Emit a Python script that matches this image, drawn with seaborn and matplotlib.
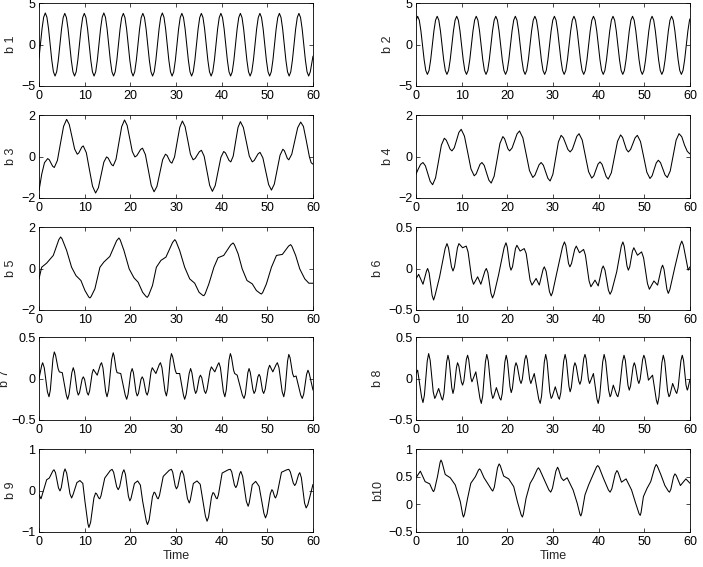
import numpy as np
import matplotlib
matplotlib.use("Agg")
import matplotlib.pyplot as plt
import seaborn as sns

sns.set_style("ticks")
plt.rcParams['font.family'] = ['Liberation Sans', 'DejaVu Sans']

# ---------------- data ----------------
x_ticks = [0, 10, 20, 30, 40, 50, 60]
x_label = "Time"

# b1: regular oscillation, sampled every 0.356 s from t = 0.31 s
b1_start, b1_step = 0.31, 0.356
b1_v = [0, 1.9, 3.29, 3.8, 3.29, 1.9, 0, -1.9, -3.29, -3.8, -3.29, -1.9,
        0, 1.88, 3.25, 3.75, 3.25, 1.88, 0, -1.9, -3.29, -3.8, -3.29, -1.9,
        0, 1.88, 3.25, 3.75, 3.25, 1.88, 0, -1.9, -3.29, -3.8, -3.29, -1.9,
        0, 1.9, 3.29, 3.8, 3.29, 1.9, 0, -1.9, -3.29, -3.8, -3.29, -1.9,
        0, 1.88, 3.25, 3.75, 3.25, 1.88, 0, -1.9, -3.29, -3.8, -3.29, -1.9,
        0, 1.88, 3.25, 3.75, 3.25, 1.88, 0, -1.9, -3.29, -3.8, -3.29, -1.9,
        0, 1.9, 3.29, 3.8, 3.29, 1.9, 0, -1.9, -3.29, -3.8, -3.29, -1.9,
        0, 1.88, 3.25, 3.75, 3.25, 1.88, 0, -1.9, -3.29, -3.8, -3.29, -1.9,
        0, 1.88, 3.25, 3.75, 3.25, 1.88, 0, -1.9, -3.29, -3.8, -3.29, -1.9,
        0, 1.88, 3.25, 3.75, 3.25, 1.88, 0, -1.9, -3.29, -3.8, -3.29, -1.9,
        0, 1.88, 3.25, 3.75, 3.25, 1.88, 0, -1.9, -3.29, -3.8, -3.29, -1.9,
        0, 1.88, 3.25, 3.75, 3.25, 1.88, 0, -1.9, -3.29, -3.8, -3.29, -1.9,
        0, 1.88, 3.25, 3.75, 3.25, 1.88, 0, -1.9, -3.29, -3.8, -3.29, -1.9,
        0, 1.88, 3.25, 3.75, 3.25, 1.88, 0, -1.9, -3.29, -3.8, -3.29]
b1_first, b1_last = -1.65, -1.4

# b2: regular oscillation, sampled every 0.3565 s from t = 0.36 s
b2_start, b2_step = 0.36, 0.3565
b2_v = [3.4, 2.93, 1.65, -0.1, -1.85, -3.13, -3.6, -3.13, -1.85, -0.1, 1.65, 2.93,
        3.4, 2.93, 1.65, -0.1, -1.85, -3.13, -3.6, -3.13, -1.85, -0.1, 1.65, 2.93,
        3.4, 2.93, 1.65, -0.1, -1.85, -3.13, -3.6, -3.13, -1.85, -0.1, 1.65, 2.93,
        3.4, 2.93, 1.65, -0.1, -1.85, -3.13, -3.6, -3.13, -1.85, -0.1, 1.65, 2.93,
        3.4, 2.93, 1.65, -0.1, -1.85, -3.13, -3.6, -3.13, -1.85, -0.1, 1.65, 2.93,
        3.4, 2.93, 1.65, -0.1, -1.85, -3.13, -3.6, -3.13, -1.85, -0.1, 1.65, 2.93,
        3.4, 2.93, 1.65, -0.1, -1.85, -3.13, -3.6, -3.13, -1.85, -0.1, 1.65, 2.93,
        3.4, 2.93, 1.65, -0.1, -1.85, -3.13, -3.6, -3.13, -1.85, -0.1, 1.65, 2.93,
        3.4, 2.93, 1.65, -0.1, -1.85, -3.13, -3.6, -3.13, -1.85, -0.1, 1.65, 2.93,
        3.4, 2.93, 1.65, -0.1, -1.85, -3.13, -3.6, -3.13, -1.85, -0.1, 1.65, 2.93,
        3.4, 2.93, 1.65, -0.1, -1.85, -3.13, -3.6, -3.13, -1.85, -0.1, 1.65, 2.93,
        3.4, 2.93, 1.65, -0.1, -1.85, -3.13, -3.6, -3.13, -1.85, -0.1, 1.65, 2.93,
        3.4, 2.93, 1.65, -0.1, -1.85, -3.13, -3.6, -3.13, -1.85, -0.1, 1.65, 2.93,
        3.4, 2.93, 1.65, -0.1, -1.85, -3.13, -3.6, -3.13, -1.85, -0.1, 1.65, 2.93]
b2_first, b2_last = 2.9, 3.1

b3_t = [0, 0.6, 1.2, 1.9, 2.26, 2.63, 2.99, 3.35, 4.03, 4.7, 5.38, 6.05,
        6.63, 7.22, 7.8, 8.38, 8.71, 9.04, 9.36, 9.69, 10.37, 11.04, 11.72,
        12.39, 13.0, 13.6, 14.2, 14.8, 15.16, 15.53, 15.89, 16.25, 16.87, 17.49,
        18.11, 18.73, 19.3, 19.87, 20.43, 21.0, 21.42, 21.84, 22.25, 22.67,
        23.3, 23.94, 24.57, 25.2, 25.83, 26.45, 27.08, 27.7, 28.05, 28.4, 28.75,
        29.1, 29.68, 30.25, 30.83, 31.4, 31.99, 32.58, 33.16, 33.75, 34.21,
        34.66, 35.12, 35.57, 36.17, 36.77, 37.37, 37.97, 38.59, 39.21, 39.83,
        40.45, 40.84, 41.23, 41.61, 42.0, 42.53, 43.05, 43.58, 44.1, 44.75,
        45.4, 46.05, 46.7, 47.13, 47.55, 47.98, 48.4, 49.03, 49.65, 50.28, 50.9,
        51.53, 52.15, 52.78, 53.4, 53.73, 54.05, 54.38, 54.7, 55.35, 56.0, 56.65,
        57.3, 57.9, 58.5, 59.2, 59.6, 60]
b3_v = [-1.65, -0.85, -0.3, -0.1, -0.16, -0.32, -0.47, -0.53, -0.19, 0.63, 1.45,
        1.79, 1.54, 0.95, 0.36, 0.11, 0.17, 0.31, 0.45, 0.51, 0.18, -0.63, -1.43,
        -1.76, -1.51, -0.89, -0.27, -0.02, -0.08, -0.24, -0.39, -0.45, -0.13,
        0.66, 1.44, 1.76, 1.50, 0.87, 0.24, -0.02, 0.04, 0.19, 0.34, 0.40, 0.09,
        -0.65, -1.39, -1.70, -1.44, -0.80, -0.15, 0.11, 0.05, -0.11, -0.26,
        -0.32, -0.02, 0.70, 1.41, 1.71, 1.44, 0.78, 0.11, -0.16, -0.09, 0.07,
        0.23, 0.30, 0.01, -0.69, -1.39, -1.68, -1.40, -0.72, -0.04, 0.24, 0.17,
        -0.01, -0.19, -0.26, 0.02, 0.71, 1.40, 1.68, 1.40, 0.71, 0.02, -0.26,
        -0.19, -0.03, 0.13, 0.2, -0.07, -0.71, -1.35, -1.62, -1.33, -0.64, 0.06,
        0.35, 0.28, 0.10, -0.09, -0.16, 0.11, 0.75, 1.39, 1.66, 1.45, 0.8, 0.0,
        -0.3, -0.37]

b4_t = [0, 0.5, 1.0, 1.53, 2.06, 2.59, 3.11, 3.64, 4.28, 4.92, 5.56, 6.2, 6.62,
        7.04, 7.45, 7.87, 8.38, 8.89, 9.39, 9.9, 10.61, 11.33, 12.04, 12.75,
        13.17, 13.59, 14.01, 14.43, 14.94, 15.45, 15.96, 16.47, 17.11, 17.75,
        18.38, 19.02, 19.39, 19.76, 20.13, 20.5, 21.04, 21.59, 22.13, 22.67,
        23.4, 24.13, 24.85, 25.58, 26.04, 26.49, 26.95, 27.4, 27.89, 28.39,
        28.88, 29.37, 29.97, 30.58, 31.18, 31.78, 32.27, 32.77, 33.26, 33.75,
        34.24, 34.73, 35.21, 35.7, 36.4, 37.09, 37.79, 38.48, 38.94, 39.39,
        39.85, 40.3, 40.75, 41.2, 41.65, 42.1, 42.78, 43.45, 44.13, 44.8, 45.23,
        45.65, 46.08, 46.5, 46.99, 47.49, 47.98, 48.47, 49.16, 49.86, 50.55,
        51.24, 51.7, 52.15, 52.61, 53.06, 53.55, 54.05, 54.54, 55.03, 55.67,
        56.32, 56.96, 57.6, 58.2, 58.8, 59.4, 60]
b4_v = [-0.85, -0.6, -0.38, -0.29, -0.45, -0.83, -1.20, -1.36, -1.03, -0.24,
        0.55, 0.88, 0.79, 0.58, 0.36, 0.27, 0.42, 0.79, 1.16, 1.31, 0.98, 0.19,
        -0.60, -0.93, -0.84, -0.61, -0.38, -0.29, -0.43, -0.79, -1.14, -1.28,
        -0.95, -0.16, 0.63, 0.96, 0.86, 0.62, 0.37, 0.27, 0.41, 0.75, 1.09, 1.23,
        0.90, 0.11, -0.68, -1.01, -0.90, -0.65, -0.40, -0.29, -0.42, -0.74,
        -1.05, -1.18, -0.86, -0.08, 0.70, 1.02, 0.90, 0.62, 0.34, 0.22, 0.35,
        0.66, 0.97, 1.1, 0.79, 0.03, -0.73, -1.04, -0.93, -0.65, -0.37, -0.26,
        -0.38, -0.68, -0.97, -1.09, -0.78, -0.03, 0.73, 1.04, 0.92, 0.63, 0.34,
        0.22, 0.34, 0.62, 0.90, 1.02, 0.72, -0.02, -0.76, -1.06, -0.93, -0.62,
        -0.31, -0.18, -0.30, -0.60, -0.89, -1.01, -0.70, 0.05, 0.79, 1.1, 0.95,
        0.55, 0.25, 0.12]

b5_t = [0, 0.58, 1.68, 3.13, 4.34, 4.74, 5.07, 6.05, 7.14, 8.09, 9.18, 10.06,
        10.88, 11.15, 11.42, 12.24, 13.34, 14.2, 15.5, 17.0, 17.5, 17.78, 18.6,
        19.75, 20.8, 21.7, 22.7, 23.45, 23.7, 23.99, 24.85, 25.7, 26.7, 27.8,
        29.26, 29.74, 30.0, 30.8, 31.9, 33.0, 34.1, 35.06, 35.84, 36.1, 36.38,
        37.2, 38.3, 39.2, 40.45, 41.99, 42.5, 42.78, 43.6, 44.5, 45.55, 46.7,
        47.6, 48.43, 48.7, 48.98, 49.8, 50.9, 52.0, 53.3, 54.65, 55.1, 55.38,
        56.2, 57.1, 58.2, 59.1, 60]
b5_v = [-0.5, 0.06, 0.26, 0.63, 1.39, 1.52, 1.42, 0.87, 0.06, -0.34, -0.58,
        -1.06, -1.37, -1.42, -1.35, -0.98, 0.06, 0.31, 0.58, 1.34, 1.47, 1.38,
        0.87, -0.02, -0.45, -0.66, -1.15, -1.35, -1.39, -1.30, -0.82, 0.06,
        0.39, 0.55, 1.26, 1.39, 1.31, 0.87, 0.06, -0.5, -0.71, -1.15, -1.29,
        -1.31, -1.22, -0.74, 0.06, 0.52, 0.63, 1.14, 1.23, 1.15, 0.71, -0.02,
        -0.58, -0.74, -1.06, -1.20, -1.23, -1.16, -0.74, 0.06, 0.63, 0.68, 1.08,
        1.15, 1.07, 0.63, -0.02, -0.5, -0.71, -0.71]

b6_t = [0, 0.58, 1.53, 2.3, 2.55, 2.88, 3.53, 3.86, 4.19, 5.17, 6.38, 6.78,
        7.11, 7.77, 8.1, 8.43, 9.08, 9.4, 10.2, 11.0, 11.4, 12.2, 12.6, 13.5,
        14.2, 15.1, 15.4, 15.74, 16.42, 16.76, 17.09, 18.07, 19.29, 19.7, 19.98,
        20.53, 20.8, 21.13, 21.78, 22.1, 22.8, 23.7, 24.13, 24.98, 25.4, 26.3,
        27.0, 27.83, 28.1, 28.48, 29.23, 29.6, 29.9, 30.8, 32.08, 32.5, 32.8,
        33.4, 33.7, 34.05, 34.75, 35.1, 35.8, 36.7, 37.1, 37.9, 38.3, 39.2, 39.9,
        40.73, 41.0, 41.38, 42.13, 42.5, 42.86, 43.95, 44.96, 45.3, 45.6, 46.2,
        46.5, 46.8, 47.4, 47.7, 48.5, 49.4, 49.83, 50.68, 51.1, 52.1, 52.9,
        53.73, 54.0, 54.31, 54.94, 55.25, 55.6, 56.7, 57.83, 58.2, 58.55, 59.6, 60]
b6_v = [-0.125, -0.07, -0.19, -0.03, 0.0, -0.055, -0.325, -0.38, -0.32, -0.1,
        0.24, 0.30, 0.25, 0.02, -0.03, 0.02, 0.25, 0.30, 0.25, 0.27, 0.20, -0.12,
        -0.19, -0.1, -0.19, -0.03, 0.0, -0.05, -0.30, -0.355, -0.31, -0.08, 0.25,
        0.31, 0.26, 0.03, -0.02, 0.02, 0.24, 0.28, 0.21, 0.24, 0.18, -0.14, -0.2,
        -0.12, -0.2, -0.01, 0.02, -0.03, -0.28, -0.33, -0.29, -0.06, 0.26, 0.32,
        0.28, 0.06, 0.02, 0.06, 0.23, 0.27, 0.19, 0.23, 0.16, -0.15, -0.22,
        -0.14, -0.21, 0.0, 0.03, -0.02, -0.26, -0.31, -0.27, -0.04, 0.27, 0.32,
        0.27, 0.03, -0.02, 0.02, 0.21, 0.25, 0.16, 0.2, 0.13, -0.18, -0.25,
        -0.15, -0.2, 0.005, 0.04, -0.01, -0.25, -0.3, -0.25, 0.02, 0.28, 0.33,
        0.28, -0.02, 0.02]

# b7 and b8 as (time, value) pairs
b7_pts = [(0, 0.0),
          (0.6, 0.16), (0.8, 0.19), (1.15, 0.13),
          (1.84, -0.16), (2.19, -0.22), (2.48, -0.14),
          (3.06, 0.24), (3.35, 0.32), (3.63, 0.28),
          (4.18, 0.12), (4.45, 0.08), (5.1, 0.07),
          (5.98, -0.20), (6.27, -0.25), (6.58, -0.19),
          (7.19, 0.07), (7.5, 0.13), (7.78, 0.08),
          (8.33, -0.15), (8.6, -0.2), (8.88, -0.17),
          (9.43, -0.01), (9.7, 0.02), (9.98, -0.01),
          (10.53, -0.17), (10.8, -0.2), (11.08, -0.15),
          (11.63, 0.06), (11.9, 0.11), (12.75, 0.04),
          (13.46, 0.17), (13.7, 0.19), (14.0, 0.13),
          (14.6, -0.16), (14.9, -0.22), (15.24, -0.14),
          (15.91, 0.23), (16.25, 0.31), (16.46, 0.27),
          (16.89, 0.11), (17.1, 0.07), (17.9, 0.06),
          (18.88, -0.20), (19.2, -0.25), (19.5, -0.19),
          (20.1, 0.07), (20.4, 0.12), (20.68, 0.07),
          (21.23, -0.16), (21.5, -0.21), (21.78, -0.18),
          (22.33, -0.01), (22.6, 0.02), (22.88, -0.01),
          (23.43, -0.17), (23.7, -0.2), (23.98, -0.15),
          (24.53, 0.08), (24.8, 0.13), (25.6, 0.06),
          (26.35, 0.17), (26.6, 0.19), (26.93, 0.13),
          (27.58, -0.15), (27.9, -0.21), (28.18, -0.13),
          (28.73, 0.22), (29.0, 0.30), (29.28, 0.26),
          (29.83, 0.10), (30.1, 0.06), (30.8, 0.06),
          (31.63, -0.20), (31.9, -0.25), (32.23, -0.19),
          (32.88, 0.06), (33.2, 0.12), (33.48, 0.07),
          (34.03, -0.13), (34.3, -0.18), (34.56, -0.15),
          (35.09, 0.01), (35.35, 0.04), (35.64, 0.01),
          (36.21, -0.15), (36.5, -0.18), (36.81, -0.13),
          (37.44, 0.09), (37.75, 0.14), (38.5, 0.08),
          (39.18, 0.17), (39.4, 0.19), (39.73, 0.13),
          (40.38, -0.16), (40.7, -0.22), (41.0, -0.14),
          (41.6, 0.22), (41.9, 0.30), (42.14, 0.26),
          (42.61, 0.10), (42.85, 0.06), (43.4, 0.04),
          (44.53, -0.20), (44.9, -0.24), (45.18, -0.19),
          (45.73, 0.07), (46.0, 0.12), (46.28, 0.07),
          (46.83, -0.13), (47.1, -0.18), (47.38, -0.15),
          (47.93, 0.02), (48.2, 0.05), (48.45, 0.02),
          (48.95, -0.15), (49.2, -0.18), (49.53, -0.13),
          (50.18, 0.11), (50.5, 0.16), (51.2, 0.08),
          (51.95, 0.17), (52.2, 0.19), (52.55, 0.13),
          (53.25, -0.16), (53.6, -0.22), (53.88, -0.14),
          (54.43, 0.21), (54.7, 0.29), (54.98, 0.25),
          (55.53, 0.06), (55.8, 0.02), (56.3, 0.03),
          (57.31, -0.20), (57.65, -0.24), (57.96, -0.19),
          (58.59, 0.05), (58.9, 0.10), (59.18, 0.06),
          (60, -0.14)]

b8_pts = [(0, 0.06), (0.36, 0.1),
          (1.24, -0.23), (1.53, -0.29), (1.84, -0.20),
          (2.46, 0.21), (2.77, 0.30), (3.1, 0.22),
          (3.77, -0.16), (4.1, -0.24), (4.3, -0.22), (4.96, -0.12),
          (5.61, -0.24), (5.83, -0.26), (6.12, -0.18),
          (6.71, 0.20), (7.0, 0.28), (7.28, 0.21),
          (7.83, -0.11), (8.1, -0.18), (8.35, -0.12),
          (8.85, 0.13), (9.1, 0.19), (9.38, 0.15),
          (9.93, -0.04), (10.2, -0.08), (10.48, -0.03),
          (11.03, 0.23), (11.3, 0.28), (11.54, 0.23),
          (12.01, 0.01), (12.25, -0.04), (13.1, 0.08),
          (14.0, -0.24), (14.3, -0.3), (14.6, -0.21),
          (15.2, 0.20), (15.5, 0.29), (15.83, 0.21),
          (16.48, -0.16), (16.8, -0.24), (17.0, -0.22), (17.6, -0.11),
          (18.35, -0.24), (18.6, -0.26), (18.89, -0.18),
          (19.46, 0.20), (19.75, 0.28), (20.03, 0.21),
          (20.58, -0.10), (20.85, -0.17), (21.11, -0.12),
          (21.64, 0.14), (21.9, 0.19), (22.18, 0.15),
          (22.73, -0.02), (23.0, -0.06), (23.28, -0.01),
          (23.83, 0.23), (24.1, 0.28), (24.36, 0.23),
          (24.89, -0.01), (25.15, -0.06), (25.9, 0.06),
          (26.88, -0.25), (27.2, -0.3), (27.5, -0.21),
          (28.1, 0.20), (28.4, 0.29), (28.7, 0.21),
          (29.3, -0.16), (29.6, -0.24), (29.83, -0.22), (30.5, -0.1),
          (31.18, -0.23), (31.4, -0.25), (31.71, -0.17),
          (32.34, 0.21), (32.65, 0.29), (32.93, 0.22),
          (33.48, -0.09), (33.75, -0.16), (34.01, -0.11),
          (34.54, 0.14), (34.8, 0.19), (35.08, 0.15),
          (35.63, -0.03), (35.9, -0.07), (36.18, -0.02),
          (36.73, 0.24), (37.0, 0.29), (37.25, 0.24),
          (37.75, -0.01), (38.0, -0.06), (38.85, 0.06),
          (39.64, -0.25), (39.9, -0.3), (40.23, -0.21),
          (40.88, 0.20), (41.2, 0.29), (41.53, 0.21),
          (42.18, -0.14), (42.5, -0.22), (42.68, -0.20), (43.2, -0.08),
          (43.95, -0.20), (44.2, -0.22), (44.54, -0.14),
          (45.21, 0.20), (45.55, 0.28), (45.84, 0.22),
          (46.41, -0.08), (46.7, -0.14), (46.98, -0.09),
          (47.53, 0.14), (47.8, 0.19), (48.05, 0.15),
          (48.55, -0.02), (48.8, -0.06), (49.08, -0.01),
          (49.63, 0.23), (49.9, 0.28), (50.15, 0.24),
          (50.9, -0.02), (51.8, 0.04),
          (52.63, -0.26), (52.9, -0.31), (53.21, -0.22),
          (53.84, 0.19), (54.15, 0.28), (54.46, 0.21),
          (55.09, -0.15), (55.4, -0.22), (55.6, -0.20), (56.2, -0.06),
          (56.88, -0.16), (57.1, -0.18), (57.4, -0.11),
          (58.0, 0.21), (58.3, 0.28), (58.58, 0.22),
          (59.13, -0.08), (59.4, -0.14), (59.55, -0.12),
          (60, -0.01)]

b9_t = [0, 0.44, 1.68, 2.26, 3.03, 3.28, 3.61, 4.27, 4.6, 4.88, 5.43, 5.7, 6.06,
        6.78, 7.14, 7.45, 8.3, 8.96, 9.6, 10.06, 10.71, 10.93, 11.3, 12.02,
        12.39, 12.62, 13.07, 13.3, 13.57, 14.4, 15.6, 16.0, 16.34, 17.01, 17.35,
        17.66, 18.29, 18.6, 18.93, 19.58, 19.9, 20.15, 20.9, 21.6, 22.2, 22.7,
        23.5, 23.76, 24.12, 24.84, 25.2, 25.43, 25.88, 26.1, 26.38, 27.2, 28.55,
        29.0, 29.28, 29.83, 30.1, 30.4, 31.0, 31.3, 31.7, 32.5, 32.9, 33.13,
        33.8, 34.6, 35.3, 36.43, 36.8, 37.13, 37.78, 38.1, 38.33, 38.78, 39.0,
        39.28, 40.1, 41.45, 41.9, 42.2, 42.8, 43.1, 43.38, 43.93, 44.2, 44.6,
        45.4, 45.8, 46.03, 46.7, 47.45, 48.2, 49.25, 49.6, 49.95, 50.65, 51.0,
        51.2, 51.6, 51.8, 52.13, 53.1, 54.3, 54.7, 55.03, 55.68, 56.0, 56.28,
        56.83, 57.1, 57.45, 58.15, 58.5, 58.88, 60]
b9_v = [-0.1, -0.2, 0.26, 0.3, 0.47, 0.5, 0.43, 0.06, -0.01, 0.07, 0.44, 0.52,
        0.42, -0.08, -0.18, -0.1, 0.19, 0.24, 0.17, -0.26, -0.80, -0.89, -0.77,
        -0.18, -0.06, -0.08, -0.18, -0.2, -0.13, 0.3, 0.48, 0.51, 0.44, 0.09,
        0.02, 0.09, 0.43, 0.5, 0.39, -0.14, -0.25, -0.19, 0.17, 0.23, 0.13,
        -0.26, -0.74, -0.82, -0.71, -0.15, -0.04, -0.06, -0.18, -0.2, -0.12,
        0.34, 0.49, 0.51, 0.44, 0.11, 0.04, 0.10, 0.42, 0.48, 0.37, -0.19, -0.3,
        -0.23, 0.17, 0.23, 0.15, -0.61, -0.74, -0.64, -0.15, -0.05, -0.07, -0.18,
        -0.2, -0.11, 0.42, 0.50, 0.51, 0.45, 0.13, 0.07, 0.13, 0.40, 0.46, 0.34,
        -0.26, -0.38, -0.30, 0.14, 0.22, 0.1, -0.55, -0.66, -0.56, -0.08, 0.02,
        -0.01, -0.15, -0.18, -0.09, 0.44, 0.50, 0.51, 0.45, 0.18, 0.12, 0.17,
        0.38, 0.43, 0.31, -0.30, -0.42, -0.34, 0.15]

b10_t = [0, 0.95, 2.0, 3.0, 3.65, 3.86, 4.07, 4.7, 5.28, 5.47, 5.7, 6.4, 7.5,
         8.6, 9.7, 10.23, 10.4, 10.63, 11.3, 12.0, 13.0, 13.68, 13.9, 14.15,
         14.9, 15.9, 16.58, 16.8, 17.15, 17.85, 18.2, 18.45, 19.2, 20.3, 21.4,
         22.2, 23.03, 23.3, 23.5, 24.1, 25.0, 25.7, 26.53, 26.8, 27.08, 27.9,
         29.1, 29.5, 29.88, 30.63, 31.0, 31.2, 31.8, 32.3, 33.1, 34.4, 35.3, 35.9,
         36.1, 36.33, 37.0, 37.8, 38.8, 39.55, 39.8, 40.1, 41.0, 42.13, 42.5,
         42.88, 43.63, 44.0, 44.25, 45.0, 46.0, 47.2, 48.1, 48.85, 49.1, 49.28,
         49.8, 50.6, 51.4, 52.3, 52.6, 52.85, 53.6, 54.5, 55.25, 55.5, 55.8,
         56.4, 56.7, 57.0, 57.9, 59.1, 60]
b10_v = [0.48, 0.6, 0.41, 0.37, 0.25, 0.23, 0.27, 0.5, 0.76, 0.8, 0.76, 0.54,
         0.48, 0.35, 0.05, -0.19, -0.23, -0.18, 0.11, 0.38, 0.5, 0.62, 0.64, 0.62,
         0.48, 0.35, 0.26, 0.24, 0.31, 0.66, 0.73, 0.70, 0.51, 0.46, 0.32, 0.05,
         -0.19, -0.23, -0.18, 0.11, 0.38, 0.48, 0.63, 0.66, 0.63, 0.48, 0.26,
         0.22, 0.29, 0.60, 0.67, 0.64, 0.48, 0.43, 0.48, 0.26, 0.02, -0.18, -0.21,
         -0.15, 0.17, 0.35, 0.54, 0.68, 0.7, 0.67, 0.48, 0.26, 0.22, 0.28, 0.55,
         0.61, 0.58, 0.4, 0.46, 0.26, 0.02, -0.17, -0.2, -0.15, 0.14, 0.29, 0.41,
         0.67, 0.72, 0.69, 0.54, 0.34, 0.24, 0.22, 0.27, 0.50, 0.55, 0.52, 0.34,
         0.46, 0.38]

y_labels = ["b 1", "b 2", "b 3", "b 4", "b 5", "b 6", "b 7", "b 8", "b 9", "b10"]
y_limits = [(-5, 5), (-5, 5), (-2, 2), (-2, 2), (-2, 2),
            (-0.5, 0.5), (-0.5, 0.5), (-0.5, 0.5), (-1, 1), (-0.5, 1)]
y_ticks = [[-5, 0, 5], [-5, 0, 5], [-2, 0, 2], [-2, 0, 2], [-2, 0, 2],
           [-0.5, 0, 0.5], [-0.5, 0, 0.5], [-0.5, 0, 0.5], [-1, 0, 1],
           [-0.5, 0, 0.5, 1]]
y_tick_labels = [["\u22125", "0", "5"], ["\u22125", "0", "5"],
                 ["\u22122", "0", "2"], ["\u22122", "0", "2"], ["\u22122", "0", "2"],
                 ["\u22120.5", "0", "0.5"], ["\u22120.5", "0", "0.5"],
                 ["\u22120.5", "0", "0.5"], ["\u22121", "0", "1"],
                 ["\u22120.5", "0", "0.5", "1"]]

# ---------------- assemble series ----------------
b1_t = np.concatenate([[0.0], b1_start + b1_step * np.arange(len(b1_v)), [60.0]])
b1_y = np.concatenate([[b1_first], b1_v, [b1_last]])
b2_t = np.concatenate([[0.0], b2_start + b2_step * np.arange(len(b2_v)), [60.0]])
b2_y = np.concatenate([[b2_first], b2_v, [b2_last]])
b7_t, b7_v = zip(*b7_pts)
b8_t, b8_v = zip(*b8_pts)

series = [(b1_t, b1_y), (b2_t, b2_y), (b3_t, b3_v), (b4_t, b4_v), (b5_t, b5_v),
          (b6_t, b6_v), (b7_t, b7_v), (b8_t, b8_v), (b9_t, b9_v), (b10_t, b10_v)]

# ---------------- layout ----------------
fig = plt.figure(figsize=(7.03, 5.67), dpi=100)
col_left = [39 / 703, 416 / 703]
ax_w = 274 / 703
ax_h = 83 / 567
row_bottom_px = [86, 198, 310, 420, 532]
fs = 9

for i, (t, v) in enumerate(series):
    row, col = divmod(i, 2)
    ax = fig.add_axes([col_left[col], 1 - row_bottom_px[row] / 567, ax_w, ax_h])
    sns.lineplot(x=np.asarray(t, float), y=np.asarray(v, float), ax=ax,
                 color="black", linewidth=0.75, estimator=None, sort=False)
    ax.set_xlim(0, 60)
    ax.set_ylim(*y_limits[i])
    ax.set_xticks(x_ticks)
    ax.set_xticklabels([str(x) for x in x_ticks])
    ax.set_yticks(y_ticks[i])
    ax.set_yticklabels(y_tick_labels[i])
    ax.tick_params(direction="in", length=3, width=0.5, top=True, right=True,
                   labelsize=fs, colors="black")
    ax.tick_params(axis="x", pad=3)
    ax.tick_params(axis="y", pad=2.5)
    for s in ax.spines.values():
        s.set_linewidth(0.6)
        s.set_color("black")
    # the wide "-0.5" tick labels on the left column push its label to the edge
    pad = 0.3 if (col == 0 and y_limits[i][0] == -0.5) else 3
    ax.set_ylabel(y_labels[i], fontsize=fs, labelpad=pad)
    if row == 4:
        ax.set_xlabel(x_label, fontsize=fs, labelpad=1.5)
    else:
        ax.set_xlabel("")

fig.savefig("out.png", dpi=100)
